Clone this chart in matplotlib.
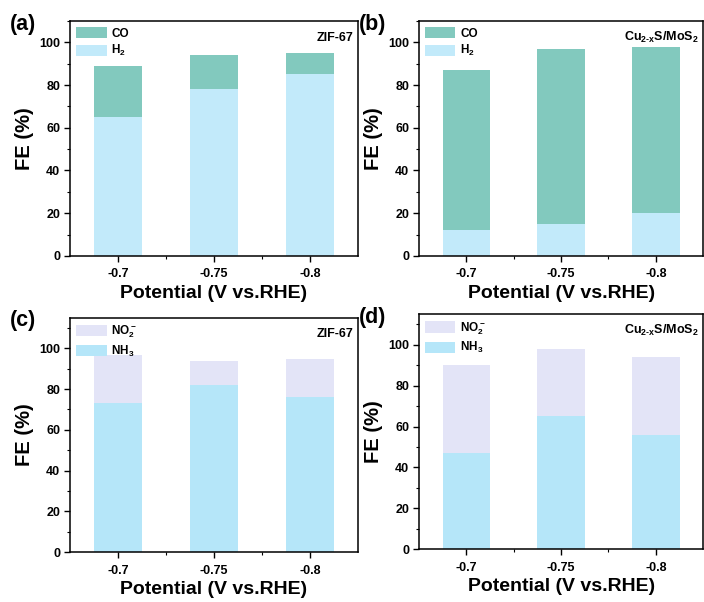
import numpy as np
import matplotlib
matplotlib.use("Agg")
import matplotlib.pyplot as plt
from matplotlib.ticker import MultipleLocator, FixedLocator

plt.rcParams["font.family"] = ["Liberation Sans", "DejaVu Sans"]
plt.rcParams["font.weight"] = "bold"
plt.rcParams["mathtext.fontset"] = "custom"
plt.rcParams["mathtext.rm"] = "Liberation Sans:bold"
plt.rcParams["mathtext.bf"] = "Liberation Sans:bold"
plt.rcParams["mathtext.it"] = "Liberation Sans:bold"

potentials = ["-0.7", "-0.75", "-0.8"]

# CO2 reduction products
zif_h2 = [65, 78, 85]
zif_co = [24, 16, 10]
cus_h2 = [12, 15, 20]
cus_co = [75, 82, 78]

# nitrate reduction products
zif_nh3 = [73, 82, 76]
zif_no2 = [24, 12, 19]
cus_nh3 = [47, 65, 56]
cus_no2 = [43, 33, 38]

c_co = "#82c9be"
c_h2 = "#c2eafa"
c_no2 = "#e3e4f7"
c_nh3 = "#b5e6f9"

catalyst_zif = "ZIF-67"
catalyst_cus = r"Cu$_{2\text{-}x}$S/MoS$_2$"

fig = plt.figure(figsize=(7.04, 6.02), dpi=100)

panels = [
    ("(a)", [0.0994, 0.575, 0.409, 0.390], zif_h2, zif_co, c_h2, c_co, r"H$_2$", "CO", catalyst_zif, 110),
    ("(b)", [0.595, 0.575, 0.404, 0.390], cus_h2, cus_co, c_h2, c_co, r"H$_2$", "CO", catalyst_cus, 110),
    ("(c)", [0.0994, 0.083, 0.409, 0.389], zif_nh3, zif_no2, c_nh3, c_no2, r"NH$_3$", r"NO$_2^-$", catalyst_zif, 115),
    ("(d)", [0.595, 0.088, 0.404, 0.390], cus_nh3, cus_no2, c_nh3, c_no2, r"NH$_3$", r"NO$_2^-$", catalyst_cus, 115),
]

x = np.arange(len(potentials))
for tag, rect, low, high, c_low, c_high, lab_low, lab_high, cat, ytop in panels:
    ax = fig.add_axes(rect)
    b1 = ax.bar(x, low, width=0.5, color=c_low, label=lab_low)
    b2 = ax.bar(x, high, width=0.5, bottom=low, color=c_high, label=lab_high)
    ax.set_xlim(-0.5, 2.5)
    ax.set_ylim(0, ytop)
    ax.set_xticks(x)
    ax.set_xticklabels(potentials)
    ax.xaxis.set_minor_locator(FixedLocator([0.5, 1.5]))
    ax.yaxis.set_major_locator(MultipleLocator(20))
    ax.yaxis.set_minor_locator(MultipleLocator(10))
    ax.tick_params(which="major", direction="out", length=4, width=1, labelsize=9, pad=3)
    ax.tick_params(axis="x", which="major", pad=5)
    ax.tick_params(which="minor", direction="out", length=2, width=0.8)
    for s in ax.spines.values():
        s.set_linewidth(1.1)
    ax.set_ylabel("FE (%)", fontsize=14.5, fontweight="bold", labelpad=4)
    ax.set_xlabel("Potential (V vs.RHE)", fontsize=14, fontweight="bold", labelpad=3)
    ax.legend([b2, b1], [lab_high, lab_low], loc="upper left", frameon=False,
              fontsize=8.5, handlelength=2.6, handleheight=1.1, labelspacing=0.3,
              handletextpad=0.4, borderaxespad=0.3, borderpad=0.2)
    ax.text(0.985, 0.93, cat, transform=ax.transAxes, ha="right", va="center",
            fontsize=9, fontweight="bold")
    fig.text(rect[0] - 0.085, rect[1] + rect[3] - 0.005, tag, fontsize=15.5,
             fontweight="bold", va="center", ha="left")

fig.savefig("out.png", dpi=100)
